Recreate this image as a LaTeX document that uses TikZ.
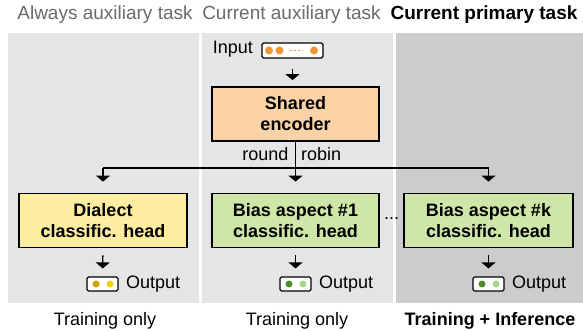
\documentclass[tikz,border=0pt]{standalone}
\usepackage{fontspec}
\setmainfont{Liberation Sans}
\usetikzlibrary{arrows.meta}

\definecolor{panellight}{HTML}{E5E5E5}
\definecolor{paneldark}{HTML}{CCCCCC}
\definecolor{titlegray}{HTML}{6A6A6A}
\definecolor{encfill}{HTML}{FAD2A6}
\definecolor{dialfill}{HTML}{FCEDA0}
\definecolor{biasfill}{HTML}{CFE6A9}
\definecolor{dotorange}{HTML}{F39533}
\definecolor{dotgold}{HTML}{C9A600}
\definecolor{dotyellow}{HTML}{F7D400}
\definecolor{dotdkgreen}{HTML}{4E8C2E}
\definecolor{dotltgreen}{HTML}{A8D78B}

\tikzset{
  lbl/.style={inner sep=0pt, font=\fontsize{18}{21}\selectfont},
  blbl/.style={lbl, font=\fontsize{18}{21}\selectfont\bfseries},
  ttl/.style={inner sep=0pt, font=\fontsize{19}{22}\selectfont},
  bttl/.style={inner sep=0pt, font=\fontsize{19}{22}\selectfont\bfseries},
  headbox/.style={draw=black, line width=1.8pt, align=center, inner sep=2pt,
    minimum height=54pt, font=\fontsize{18}{21}\selectfont\bfseries},
  icon/.style={draw=black, line width=1.2pt, fill=white, rounded corners=1.5pt,
    inner sep=0pt, minimum height=14pt},
  flow/.style={line width=1.3pt},
  arr/.style={flow, -{Triangle[width=14pt,length=6pt]}},
  dot/.style={circle, fill=#1, inner sep=0pt, minimum size=7pt},
  bigdot/.style={circle, fill=#1, inner sep=0pt, minimum size=8pt},
}

\begin{document}
\begin{tikzpicture}[x=1pt, y=-1pt]
\useasboundingbox (0,0) rectangle (583,331);

% task columns
\fill[panellight] (8,33) rectangle (199,303);
\fill[panellight] (202,33) rectangle (393,303);
\fill[paneldark] (396,33) rectangle (583,303);

% column titles
\node[ttl, text=titlegray] (t1) at (105,15) {Always auxiliary task};
\node[ttl, text=titlegray] (t2) at (291.5,15) {Current auxiliary task};
\node[bttl] (t3) at (484,15) {Current primary task};

% column footers
\node[lbl] (f1) at (105,321) {Training only};
\node[lbl] (f2) at (297,321) {Training only};
\node[blbl] (f3) at (490,321) {Training + Inference};

% input sequence
\node[lbl, anchor=east] (inlab) at (253,49) {Input};
\node[icon, minimum width=61pt, minimum height=15pt] (inp) at (292.5,50.5) {};
\node[bigdot=dotorange] (d1) at (269,50.5) {};
\node[bigdot=dotorange] (d2) at (279.5,50.5) {};
\draw[dotorange, line width=1.6pt, dash pattern=on 1.6pt off 2.4pt] (290,50.5) -- (303,50.5);
\node[bigdot=dotorange] (d3) at (314,50.5) {};

% shared encoder
\node[headbox, fill=encfill, minimum width=167pt] (enc) at (295.5,114) {Shared\\encoder};
\draw[arr, shorten <=10pt, shorten >=6pt] (inp.south) -- (inp.south |- enc.north);

% heads
\node[headbox, fill=dialfill, minimum width=168pt] (dia) at (103,220.5) {Dialect\\classific. head};
\node[headbox, fill=biasfill, minimum width=167pt] (b1) at (295.5,220.5) {Bias aspect \#1\\classific. head};
\node[headbox, fill=biasfill, minimum width=169pt] (bk) at (488.5,220.5) {Bias aspect \#k\\classific. head};
\node[lbl] (ell) at (391.5,219) {...};

% round robin branching
\coordinate (bL) at (103,168);
\coordinate (bM) at (295.5,168);
\coordinate (bR) at (488.5,168);
\draw[flow] (enc.south) -- (bM);
\draw[flow] (bL) -- (bR);
\node[lbl, anchor=east] (rr1) at (288.5,154) {round};
\node[lbl, anchor=west] (rr2) at (301,154) {robin};
\draw[arr, shorten >=11pt] (bL) -- (dia.north);
\draw[arr, shorten >=11pt] (bM) -- (b1.north);
\draw[arr, shorten >=11pt] (bR) -- (bk.north);

% outputs
\node[icon, minimum width=31pt] (o1) at (102.5,284) {};
\node[dot=dotgold] at (96,284) {};
\node[dot=dotyellow] at (110,284) {};
\node[lbl, anchor=west] (o1t) at (126,284) {Output};

\node[icon, minimum width=31pt] (o2) at (295.5,284) {};
\node[dot=dotdkgreen] at (289,284) {};
\node[dot=dotltgreen] at (303,284) {};
\node[lbl, anchor=west] (o2t) at (319,284) {Output};

\node[icon, minimum width=31pt] (o3) at (488.5,284) {};
\node[dot=dotdkgreen] at (482,284) {};
\node[dot=dotltgreen] at (496,284) {};
\node[lbl, anchor=west] (o3t) at (512,284) {Output};

\draw[arr, shorten <=7pt, shorten >=8pt] (dia.south) -- (o1.north);
\draw[arr, shorten <=7pt, shorten >=8pt] (b1.south) -- (o2.north);
\draw[arr, shorten <=7pt, shorten >=8pt] (bk.south) -- (o3.north);
\end{tikzpicture}
\end{document}
